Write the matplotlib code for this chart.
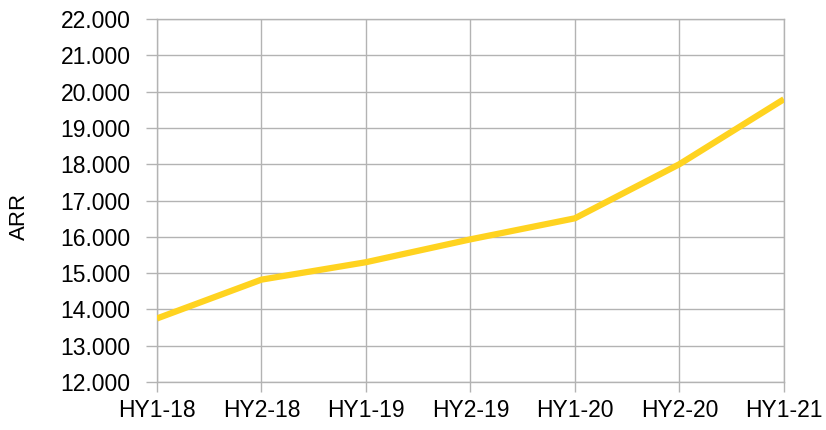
import matplotlib
matplotlib.use("Agg")
import matplotlib.pyplot as plt
from matplotlib.ticker import FuncFormatter, MultipleLocator

# ── Daten ────────────────────────────────────────────────────────────────────
periods = ["HY1-18", "HY2-18", "HY1-19", "HY2-19", "HY1-20", "HY2-20", "HY1-21"]
arr = [13750, 14820, 15300, 15930, 16510, 18000, 19790]

GRID = "#b3b3b3"
LINE = "#ffd320"

plt.rcParams["font.family"] = ["Liberation Sans", "DejaVu Sans"]

fig = plt.figure(figsize=(8.26, 4.30), dpi=100)
ax = fig.add_axes([0.190, 0.1116, 0.759, 0.8442])

x = range(len(periods))
ax.plot(x, arr, color=LINE, linewidth=4.5, solid_capstyle="butt", zorder=3)

ax.set_xlim(0, len(periods) - 1)
ax.set_ylim(12000, 22000)
ax.yaxis.set_major_locator(MultipleLocator(1000))
ax.yaxis.set_major_formatter(FuncFormatter(lambda v, p: f"{v:,.0f}".replace(",", ".")))
ax.set_xticks(list(x))
ax.set_xticklabels(periods)

ax.grid(True, color=GRID, linewidth=1.0)
ax.set_axisbelow(True)
for s in ax.spines.values():
    s.set_color(GRID)
    s.set_linewidth(1.0)

ax.tick_params(axis="both", colors=GRID, width=1.0, labelsize=16.5,
               labelcolor="black")
ax.tick_params(axis="x", length=7, pad=5)
ax.tick_params(axis="y", length=8, pad=11)

ax.set_ylabel("ARR", fontsize=16)
ax.yaxis.set_label_coords(-0.203, 0.457)

fig.savefig("out.png", dpi=100)
